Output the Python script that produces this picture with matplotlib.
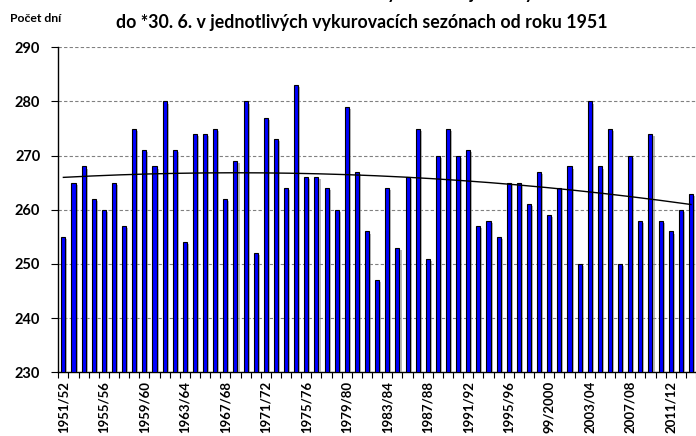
import matplotlib
matplotlib.use("Agg")
import matplotlib.pyplot as plt
import matplotlib.patheffects as pe
import numpy as np
from matplotlib.ticker import MultipleLocator, FixedLocator

plt.rcParams['font.family'] = ['Lato', 'DejaVu Sans']
plt.rcParams['font.weight'] = 'bold'

# heating seasons 1951/52 .. 2013/14
seasons = [f"{y}/{str(y + 1)[-2:]}" for y in range(1951, 2014)]
seasons[48] = "99/2000"

days = [255, 265, 268, 262, 260, 265, 257, 275, 271, 268,
        280, 271, 254, 274, 274, 275, 262, 269, 280, 252,
        277, 273, 264, 283, 266, 266, 264, 260, 279, 267,
        256, 247, 264, 253, 266, 275, 251, 270, 275, 270,
        271, 257, 258, 255, 265, 265, 261, 267, 259, 264,
        268, 250, 280, 268, 275, 250, 270, 258, 274, 258,
        256, 260, 263]

title_top = "Počet dní od začiatku do konca vykurovacej sezóny od 1. 9."
title_bottom = "do *30. 6. v jednotlivých vykurovacích sezónach od roku 1951"
ylabel = "Počet dní"

x = np.arange(len(days))

fig = plt.figure(figsize=(6.96, 4.36), dpi=100)
ax = fig.add_axes([0.0838, 0.146, 0.9162, 0.7455])

shadow = [pe.SimplePatchShadow(offset=(1.5, -1.5), shadow_rgbFace='#888888', alpha=0.6),
          pe.Normal()]
bars = ax.bar(x, days, width=0.4, bottom=0, color='#0000FF', edgecolor='black',
              linewidth=0.8, zorder=3)
for b in bars:
    b.set_path_effects(shadow)

# polynomial trend (2nd order) as in the original
coef = np.polyfit(x, days, 2)
xt = np.linspace(0, len(days) - 1, 200)
ax.plot(xt, np.polyval(coef, xt), color='black', linewidth=1.0, zorder=4)

ax.set_ylim(230, 290)
ax.set_xlim(-0.5, len(days) - 0.5)
ax.yaxis.set_major_locator(MultipleLocator(10))
ax.grid(axis='y', linestyle=(0, (3, 2)), color='#808080', linewidth=0.8, zorder=0)

ax.xaxis.set_major_locator(FixedLocator(x[::4]))
ax.set_xticklabels(seasons[::4], rotation=90, fontsize=9.5, fontweight='bold')
ax.xaxis.set_minor_locator(FixedLocator(np.arange(-0.5, len(days), 1)))
ax.tick_params(axis='x', which='major', length=0, pad=6)
ax.tick_params(axis='x', which='minor', length=4, width=0.8, direction='out')
ax.tick_params(axis='y', length=5, width=0.8, direction='out', labelsize=10.5, pad=8)
for lab in ax.get_yticklabels():
    lab.set_fontweight('bold')

for s in ['top', 'right']:
    ax.spines[s].set_visible(False)
for s in ['left', 'bottom']:
    ax.spines[s].set_linewidth(1.0)
    ax.spines[s].set_color('black')

# first title line is cut off at the top edge in the original
fig.text(0.52, 1.003, title_top, ha='center', va='baseline', fontsize=12.8, fontweight='bold')
fig.text(0.52, 0.948, title_bottom, ha='center', va='center', fontsize=12.8, fontweight='bold')
fig.text(0.014, 0.958, ylabel, ha='left', va='center', fontsize=8.8, fontweight='bold')

fig.savefig("out.png", dpi=100)
